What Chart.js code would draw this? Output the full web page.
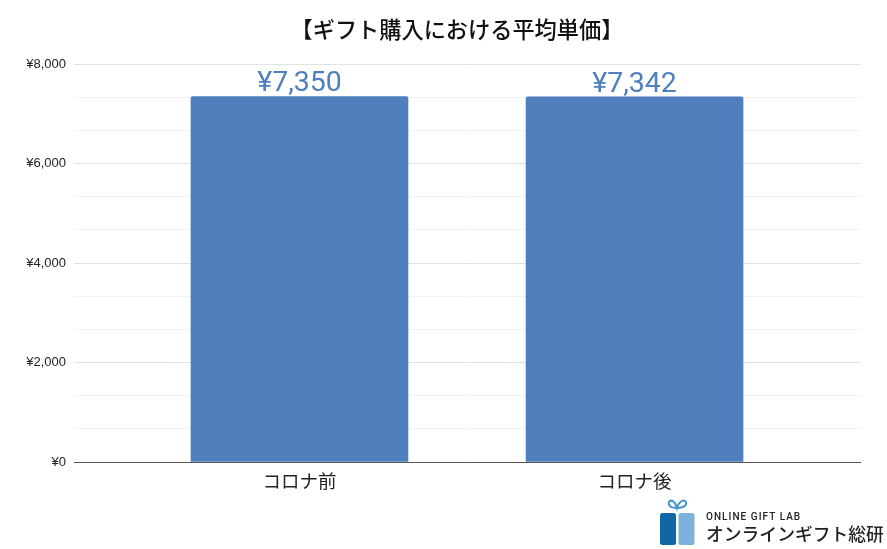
<!DOCTYPE html>
<html lang="ja">
<head>
<meta charset="utf-8">
<title>ギフト購入における平均単価</title>
<style>
  html, body { margin: 0; padding: 0; background: #fff; }
  #wrap { position: relative; width: 887px; height: 549px; overflow: hidden; }
  #logo { position: absolute; left: 660px; top: 499px; width: 35px; height: 46px; }
  .logo-en { position: absolute; left: 706px; top: 511px; font: 500 10px Roboto, sans-serif; letter-spacing: 1.05px; color: #222; white-space: nowrap; }
  .logo-ja { position: absolute; left: 706px; top: 522px; font: 500 17.8px "Noto Sans CJK JP", sans-serif; line-height: 22px; color: #222; white-space: nowrap; }
</style>
</head>
<body>
<div id="wrap">
  <canvas id="chart" width="887" height="549"></canvas>
  <svg id="logo" viewBox="0 0 35 46">
    <path d="M17 9 C10 9 8 6 9 3 C11 0 15 2 17 9 C19 2 24 0 26 3 C27 6 24 9 17 9 Z" fill="none" stroke="#3f94c9" stroke-width="2"/>
    <rect x="0" y="14" width="16" height="32" rx="2.5" fill="#0f67a6"/>
    <rect x="18.5" y="14" width="16" height="32" rx="2.5" fill="#7db3da"/>
  </svg>
  <div class="logo-en">ONLINE GIFT LAB</div>
  <div class="logo-ja">オンラインギフト総研</div>
</div>
<script src="https://cdn.jsdelivr.net/npm/chart.js@4"></script>
<script>
const chartTitle = '【ギフト購入における平均単価】';
const categories = ['コロナ前', 'コロナ後'];
const averagePrice = [7350, 7342];
const yMajorTicks = [0, 2000, 4000, 6000, 8000];
const yTickLabels = ['¥0', '¥2,000', '¥4,000', '¥6,000', '¥8,000'];
const yMinorSteps = [1 / 3, 2 / 3]; // fractions of a major step

const yen = v => '¥' + v.toLocaleString('en-US');

// value label above each bar
const barLabels = {
  id: 'barLabels',
  afterDatasetsDraw(chart) {
    const ctx = chart.ctx;
    ctx.save();
    ctx.font = '28.5px Roboto, sans-serif';
    ctx.fillStyle = '#4f7fbc';
    ctx.textAlign = 'center';
    ctx.textBaseline = 'bottom';
    chart.getDatasetMeta(0).data.forEach((bar, i) => {
      ctx.fillText(yen(averagePrice[i]), bar.x, bar.y + 2);
    });
    ctx.restore();
  }
};

new Chart(document.getElementById('chart').getContext('2d'), {
  type: 'bar',
  data: {
    datasets: [{
      data: averagePrice.map((v, i) => ({ x: i, y: v })),
      backgroundColor: '#4f7fbc',
      barThickness: 217,
      borderRadius: { topLeft: 2, topRight: 2 },
      borderSkipped: 'bottom'
    }]
  },
  options: {
    responsive: false,
    animation: false,
    layout: { padding: { right: 26 } },
    plugins: {
      legend: { display: false },
      tooltip: { enabled: false },
      title: {
        display: true,
        fullSize: false,
        // trailing spaces nudge the centred title left of the plot centre
        text: chartTitle + '　  ',
        color: '#111',
        font: { family: '"Noto Sans CJK JP", sans-serif', size: 22.2, weight: '500' },
        padding: { top: 16.5, bottom: 21 }
      }
    },
    scales: {
      x: {
        type: 'linear',
        offset: false,
        min: -0.673,
        max: 1.676,
        afterFit: s => { s.height = 87; },
        afterBuildTicks: s => { s.ticks = categories.map((_, i) => ({ value: i })); },
        border: { display: false },
        grid: { display: false },
        ticks: {
          callback: v => categories[v],
          color: '#222',
          padding: 0,
          maxRotation: 0,
          font: { family: '"Noto Sans CJK JP", sans-serif', size: 18.5 }
        }
      },
      y: {
        min: 0,
        max: 8000,
        afterFit: s => { s.width = 74; },
        afterBuildTicks: s => {
          const vals = [...yMajorTicks];
          yMajorTicks.slice(0, -1).forEach((v, i) => {
            const step = yMajorTicks[i + 1] - v;
            yMinorSteps.forEach(f => vals.push(v + step * f));
          });
          s.ticks = vals.sort((a, b) => a - b).map(value => ({ value }));
        },
        border: { display: false },
        grid: {
          drawTicks: false,
          color: c => c.tick.value === 0 ? '#555' : (yMajorTicks.includes(c.tick.value) ? '#e2e2e2' : '#f3f3f3'),
          lineWidth: 1
        },
        ticks: {
          padding: 8,
          color: '#222',
          autoSkip: false,
          font: { family: '"Liberation Sans", sans-serif', size: 13 },
          callback: v => yTickLabels[yMajorTicks.indexOf(v)] || ''
        }
      }
    }
  },
  plugins: [barLabels]
});
</script>
</body>
</html>
